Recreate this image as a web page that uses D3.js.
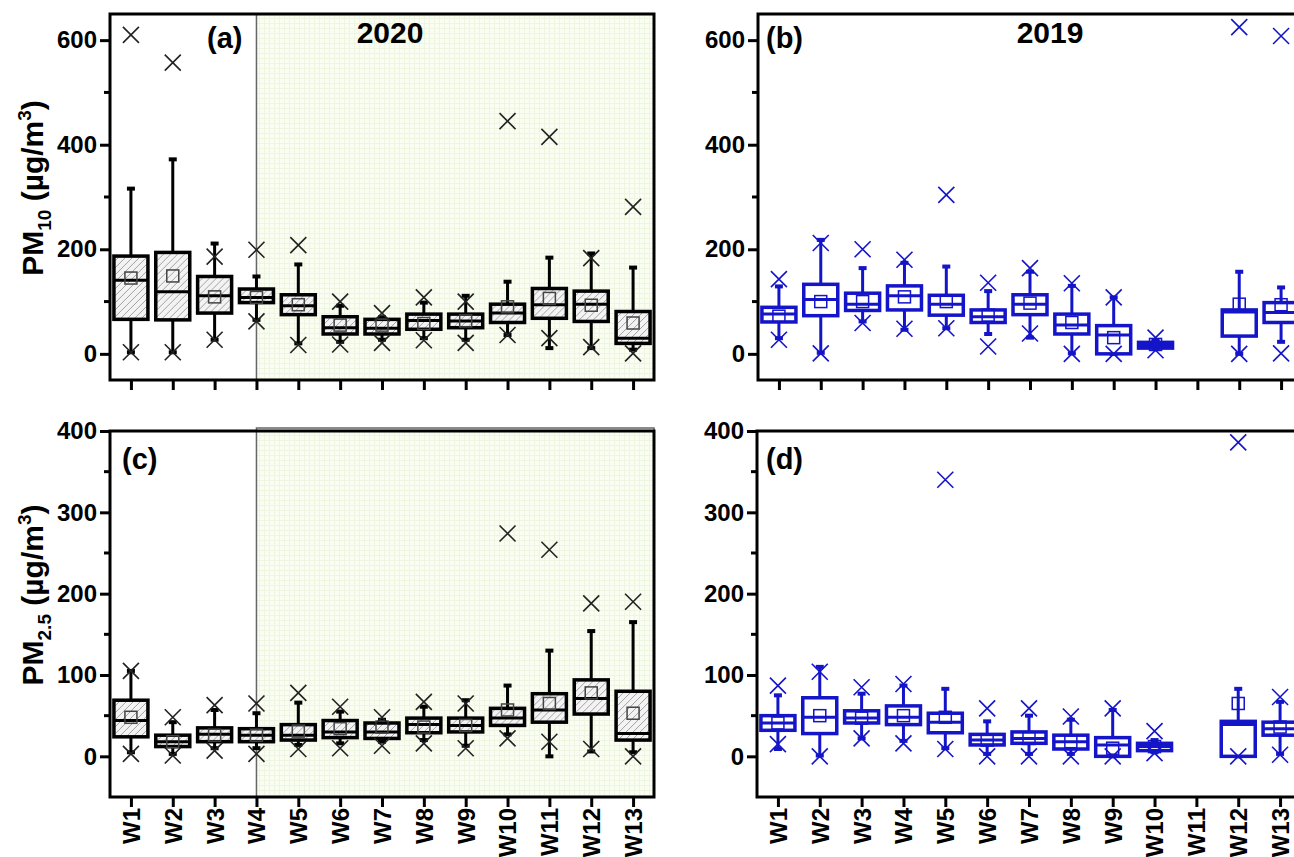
<!DOCTYPE html>
<html>
<head>
<meta charset="utf-8">
<script src="https://cdn.jsdelivr.net/npm/d3@7"></script>
<style>
  body { margin: 0; background: #fff; }
  text { font-family: Arial, "Liberation Sans", sans-serif; font-weight: bold; }
</style>
</head>
<body>
<div id="chart"></div>
<script>
const weeks = ['W1','W2','W3','W4','W5','W6','W7','W8','W9','W10','W11','W12','W13'];

// one row per week: [lowX, lowWhisker, q1, median, q3, highWhisker, highX, mean]
const pm10_2020 = [
  [3, 3, 66, 141, 187, 316, 610, 145],
  [3, 3, 65, 119, 194, 372, 557, 149],
  [27, 27, 78, 111, 148, 211, 186, 109],
  [62, 65, 98, 108, 124, 148, 199, 108],
  [17, 20, 75, 92, 113, 171, 208, 94],
  [18, 23, 38, 50, 71, 92, 100, 55],
  [21, 27, 38, 49, 66, 70, 78, 55],
  [26, 30, 47, 64, 76, 98, 108, 58],
  [21, 27, 50, 63, 76, 111, 100, 63],
  [36, 36, 60, 78, 95, 138, 445, 90],
  [30, 11, 68, 94, 125, 184, 415, 106],
  [13, 11, 62, 95, 120, 192, 183, 93],
  [1, 8, 20, 30, 81, 165, 281, 59]
];
const pm10_2019 = [
  [27, 30, 61, 76, 89, 129, 143, 72],
  [1, 2, 73, 104, 133, 218, 212, 100],
  [59, 62, 83, 95, 116, 164, 200, 100],
  [48, 46, 84, 111, 130, 174, 180, 109],
  [49, 49, 74, 95, 112, 167, 304, 100],
  [14, 38, 60, 71, 84, 120, 136, 74],
  [39, 31, 75, 95, 113, 157, 164, 97],
  [0, 1, 38, 55, 76, 130, 135, 60],
  [0, 0, 0, 36, 54, 108, 108, 31],
  [7, 9, 11, 16, 22, 26, 31, 18],
  null,
  [0, 0, 34, 80, 84, 157, 625, 95],
  [1, 23, 60, 79, 98, 127, 608, 94]
];
const pm25_2020 = [
  [3, 5, 24, 44, 69, 105, 105, 48],
  [1, 3, 12, 18, 26, 42, 48, 18],
  [7, 10, 18, 27, 35, 57, 63, 26],
  [3, 10, 18, 26, 34, 53, 65, 26],
  [9, 14, 20, 26, 39, 66, 78, 31],
  [10, 16, 23, 30, 44, 55, 61, 34],
  [13, 18, 22, 30, 41, 45, 48, 36],
  [16, 20, 29, 39, 47, 61, 67, 36],
  [10, 13, 30, 38, 47, 69, 65, 38],
  [22, 27, 38, 47, 59, 87, 274, 57],
  [18, 0, 42, 57, 77, 130, 254, 65],
  [9, 6, 52, 71, 94, 154, 188, 78],
  [0, 5, 20, 28, 80, 165, 190, 53]
];
const pm25_2019 = [
  [15, 9, 32, 41, 50, 75, 87, 41],
  [0, 1, 28, 48, 72, 110, 104, 50],
  [22, 22, 41, 47, 56, 77, 85, 47],
  [16, 19, 39, 48, 62, 87, 89, 50],
  [9, 10, 29, 42, 53, 83, 340, 48],
  [0, 3, 14, 20, 27, 43, 59, 20],
  [0, 3, 16, 22, 30, 50, 59, 22],
  [0, 3, 9, 18, 26, 45, 49, 18],
  [0, 0, 0, 14, 23, 57, 59, 10],
  [4, 5, 7, 12, 16, 20, 31, 12],
  null,
  [0, 0, 0, 39, 43, 83, 386, 65],
  [2, 3, 26, 34, 42, 67, 73, 36]
];

const pm10Major = [0, 200, 400, 600];
const pm10Minor = [100, 300, 500];
const pm25Major = [0, 100, 200, 300, 400];
const pm25Minor = [50, 150, 250, 350];

const blue = '#1414c8';
const panelW = 544, panelH = 366;

const svg = d3.select('#chart')
  .append('svg')
    .attr('width', 1294)
    .attr('height', 857);

const defs = svg.append('defs');

const grid = defs.append('pattern')
    .attr('id', 'grid')
    .attr('patternUnits', 'userSpaceOnUse')
    .attr('width', 5).attr('height', 5);
grid.append('rect').attr('width', 5).attr('height', 5).attr('fill', '#fafdf1');
grid.append('path').attr('d', 'M4.5 0V5M0 4.5H5').attr('stroke', '#eef5e0').attr('stroke-width', 1);

const hatch = defs.append('pattern')
    .attr('id', 'hatch')
    .attr('patternUnits', 'userSpaceOnUse')
    .attr('width', 7).attr('height', 7);
hatch.append('rect').attr('width', 7).attr('height', 7).attr('fill', '#f3f3f3');
hatch.append('path').attr('d', 'M0 7L7 0M-1 1L1 -1M6 8L8 6').attr('stroke', '#a2a2a2').attr('stroke-width', 1);

function drawPanel(p) {
  const g = svg.append('g').attr('transform', `translate(${p.left},${p.top})`);

  const x = d3.scalePoint().domain(weeks).range([0, panelW]).padding(0.5);
  const y = d3.scaleLinear().domain(p.domain).range([panelH, 0]);

  if (p.shade) {
    g.append('rect')
      .attr('x', x('W4'))
      .attr('y', p.shadeTop)
      .attr('width', panelW - x('W4'))
      .attr('height', panelH - p.shadeTop)
      .attr('fill', 'url(#grid)')
      .attr('stroke', '#666')
      .attr('stroke-width', 1.5);
  }

  const rows = p.data.map((d, i) => d ? {week: weeks[i], v: d} : null).filter(d => d);
  const col = p.color;
  const bw = 34;

  const box = g.selectAll('.box')
    .data(rows)
    .join('g')
      .attr('class', 'box')
      .attr('transform', d => `translate(${x(d.week)},0)`);

  // whiskers
  box.append('line')
      .attr('y1', d => y(d.v[1])).attr('y2', d => y(d.v[5]))
      .attr('stroke', col).attr('stroke-width', 3);
  box.selectAll('.cap')
    .data(d => [d.v[1], d.v[5]])
    .join('line')
      .attr('class', 'cap')
      .attr('x1', -4).attr('x2', 4)
      .attr('y1', d => y(d)).attr('y2', d => y(d))
      .attr('stroke', col).attr('stroke-width', 4);

  box.append('rect')
      .attr('x', -bw / 2).attr('width', bw)
      .attr('y', d => y(d.v[4]))
      .attr('height', d => Math.max(1, y(d.v[2]) - y(d.v[4])))
      .attr('fill', p.hatch ? 'url(#hatch)' : '#fff')
      .attr('stroke', col).attr('stroke-width', 3.5);

  box.append('line')
      .attr('x1', -bw / 2).attr('x2', bw / 2)
      .attr('y1', d => y(d.v[3])).attr('y2', d => y(d.v[3]))
      .attr('stroke', col).attr('stroke-width', 3);

  // mean
  box.append('rect')
      .attr('x', -6).attr('width', 12)
      .attr('y', d => y(d.v[7]) - 6).attr('height', 12)
      .attr('fill', 'none')
      .attr('stroke', p.hatch ? '#444' : col)
      .attr('stroke-width', 1.5);

  // x markers
  box.selectAll('.xm')
    .data(d => [d.v[0], d.v[6]])
    .join('path')
      .attr('class', 'xm')
      .attr('d', d => `M-8 ${y(d) - 8}L8 ${y(d) + 8}M-8 ${y(d) + 8}L8 ${y(d) - 8}`)
      .attr('stroke', p.hatch ? '#222' : col)
      .attr('stroke-width', 1.6);

  // y axis
  const yAxis = g.append('g')
      .call(d3.axisLeft(y).tickValues(p.major).tickSize(10).tickPadding(3));
  yAxis.select('.domain').remove();
  yAxis.selectAll('line').attr('stroke', '#000').attr('stroke-width', 3);
  yAxis.selectAll('text')
      .attr('font-size', 24).attr('font-family', null).attr('fill', '#000');

  g.append('g')
    .selectAll('line')
    .data(p.minor)
    .join('line')
      .attr('x1', -6).attr('x2', 0)
      .attr('y1', d => y(d)).attr('y2', d => y(d))
      .attr('stroke', '#000').attr('stroke-width', 3);

  // x axis
  const xAxis = g.append('g')
      .attr('transform', `translate(0,${panelH})`)
      .call(d3.axisBottom(x).tickSize(10).tickFormat(p.showX ? d => d : ''));
  xAxis.select('.domain').remove();
  xAxis.selectAll('line').attr('stroke', '#000').attr('stroke-width', 3);
  xAxis.selectAll('text')
      .attr('font-size', 24).attr('font-family', null).attr('fill', '#000')
      .attr('transform', 'rotate(-90)')
      .attr('text-anchor', 'end')
      .attr('x', -11).attr('y', 0)
      .attr('dy', '0.35em');

  // frame
  g.append('rect')
      .attr('width', panelW).attr('height', panelH)
      .attr('fill', 'none')
      .attr('stroke', '#000').attr('stroke-width', 3);

  g.append('text')
      .attr('x', p.tagX).attr('y', p.tagY)
      .attr('font-size', 29)
      .text(p.tag);

  if (p.year) {
    g.append('text')
        .attr('x', p.yearX).attr('y', 29)
        .attr('text-anchor', 'middle')
        .attr('font-size', 30)
        .text(p.year);
  }

  if (p.title) {
    const t = svg.append('text')
        .attr('transform', `translate(43,${p.titleY}) rotate(-90)`)
        .attr('text-anchor', 'middle')
        .attr('font-size', 30);
    t.append('tspan').text('PM');
    t.append('tspan').attr('font-size', 19).attr('dy', 8).text(p.title);
    t.append('tspan').attr('dy', -8).text(' (\u00b5g/m');
    t.append('tspan').attr('font-size', 19).attr('dy', -12).text('3');
    t.append('tspan').attr('dy', 12).text(')');
  }
}

drawPanel({left: 110, top: 14, data: pm10_2020, domain: [-50, 650], major: pm10Major, minor: pm10Minor,
  color: '#000', hatch: true, shade: true, shadeTop: 0, showX: false,
  tag: '(a)', tagX: 97, tagY: 34, year: '2020', yearX: 280, title: '10', titleY: 188});
drawPanel({left: 758, top: 14, data: pm10_2019, domain: [-50, 650], major: pm10Major, minor: pm10Minor,
  color: blue, hatch: false, shade: false, showX: false,
  tag: '(b)', tagX: 8, tagY: 34, year: '2019', yearX: 292});
drawPanel({left: 110, top: 431, data: pm25_2020, domain: [-50, 400], major: pm25Major, minor: pm25Minor,
  color: '#000', hatch: true, shade: true, shadeTop: -3, showX: true,
  tag: '(c)', tagX: 12, tagY: 38, title: '2.5', titleY: 595});
drawPanel({left: 757, top: 431, data: pm25_2019, domain: [-50, 400], major: pm25Major, minor: pm25Minor,
  color: blue, hatch: false, shade: false, showX: true,
  tag: '(d)', tagX: 9, tagY: 38});
</script>
</body>
</html>
